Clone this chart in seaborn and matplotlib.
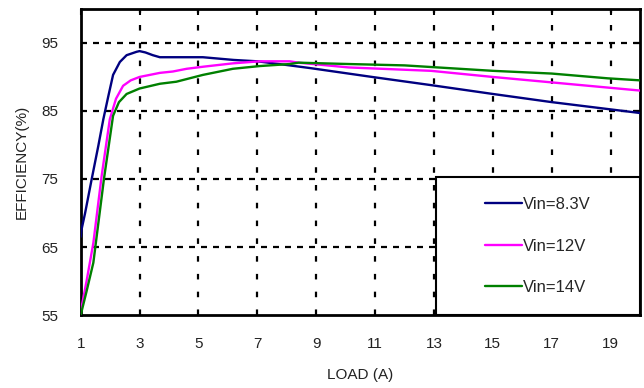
import numpy as np
import pandas as pd
import matplotlib
matplotlib.use("Agg")
import matplotlib.pyplot as plt
from matplotlib.patches import Rectangle
import seaborn as sns

# Efficiency curves
load_83 = [1.0, 1.03, 1.15, 1.37, 1.6, 1.77, 1.94, 2.1, 2.33, 2.56, 2.9, 3.0, 3.2, 3.45, 3.69, 4.5, 5.15, 6.2, 7.0, 8.1, 8.8, 10.9, 12.9, 15.0, 17.0, 18.5, 20.0]
eff_83 = [66.5, 67.6, 70.0, 74.9, 79.9, 83.8, 87.2, 90.3, 92.2, 93.2, 93.7, 93.8, 93.6, 93.2, 92.9, 92.9, 92.9, 92.5, 92.3, 91.7, 91.3, 90.0, 88.8, 87.5, 86.3, 85.5, 84.7]

load_12 = [1.0, 1.2, 1.43, 1.71, 1.99, 2.2, 2.44, 2.7, 3.0, 3.69, 4.13, 4.6, 5.15, 6.17, 7.08, 8.1, 8.4, 10.1, 12.9, 15.0, 17.0, 18.5, 20.0]
eff_12 = [55.5, 60.0, 65.6, 75.4, 83.8, 86.8, 88.7, 89.5, 90.0, 90.6, 90.8, 91.2, 91.5, 92.0, 92.3, 92.3, 92.1, 91.4, 90.9, 90.0, 89.2, 88.6, 88.0]

load_14 = [1.0, 1.2, 1.43, 1.79, 2.1, 2.3, 2.56, 3.0, 3.69, 4.25, 5.15, 6.17, 7.08, 8.1, 8.4, 10.1, 12.0, 15.0, 17.0, 18.9, 20.0]
eff_14 = [55.0, 58.5, 62.7, 75.0, 84.3, 86.3, 87.5, 88.3, 89.0, 89.3, 90.3, 91.2, 91.6, 91.9, 92.1, 91.9, 91.7, 90.9, 90.5, 89.8, 89.5]

labels = ["Vin=8.3V", "Vin=12V", "Vin=14V"]
colors = ["#000080", "#FF00FF", "#008000"]

x_ticks = [1, 3, 5, 7, 9, 11, 13, 15, 17, 19]
y_ticks = [55, 65, 75, 85, 95]

# long-form table for seaborn
df = pd.concat([
    pd.DataFrame({"load": load_83, "eff": eff_83, "vin": labels[0]}),
    pd.DataFrame({"load": load_12, "eff": eff_12, "vin": labels[1]}),
    pd.DataFrame({"load": load_14, "eff": eff_14, "vin": labels[2]}),
], ignore_index=True)

sns.set_style("white")
plt.rcParams["font.family"] = ["Liberation Sans", "DejaVu Sans"]

fig = plt.figure(figsize=(6.44, 3.88), dpi=100)
ax = fig.add_axes([0.1253, 0.188, 0.8685, 0.789])

sns.lineplot(data=df, x="load", y="eff", hue="vin", palette=dict(zip(labels, colors)),
             hue_order=labels, linewidth=1.7, sort=False, estimator=None, ax=ax, zorder=3)

ax.set_xlim(1, 20)
ax.set_ylim(55, 100)
ax.set_xticks(x_ticks)
ax.set_yticks(y_ticks)
ax.tick_params(axis="both", labelsize=11, colors="black", labelcolor="#222222",
               direction="in", length=4, width=1.5, top=True, right=True, pad=16)

# dashed black grid, like the scope-style original
for xv in x_ticks[1:]:
    ax.axvline(xv, color="black", linestyle=(0, (2.5, 5.5)), linewidth=1.6, zorder=0)
for yv in y_ticks[1:]:
    ax.axhline(yv, color="black", linestyle=(0, (2.7, 2.7)), linewidth=1.6, zorder=0)

for sp in ax.spines.values():
    sp.set_color("black")
    sp.set_linewidth(2)

ax.set_xlabel("LOAD (A)", fontsize=11, color="#222222", labelpad=12)
ax.set_ylabel("EFFICIENCY(%)", fontsize=11, color="#222222", labelpad=9)

# legend box sits on the lower right corner of the axes
ax.add_patch(Rectangle((0.635, 0.0), 0.365, 0.451, transform=ax.transAxes,
                       facecolor="white", edgecolor="black", linewidth=1.5, zorder=4))
leg = ax.legend(loc="center", bbox_to_anchor=(0.8175, 0.2255), fontsize=12, frameon=False,
                handlelength=2.2, handletextpad=0.1, labelspacing=1.6)
leg.set_zorder(5)
leg.set_title(None)

fig.savefig("out.png", dpi=100)
